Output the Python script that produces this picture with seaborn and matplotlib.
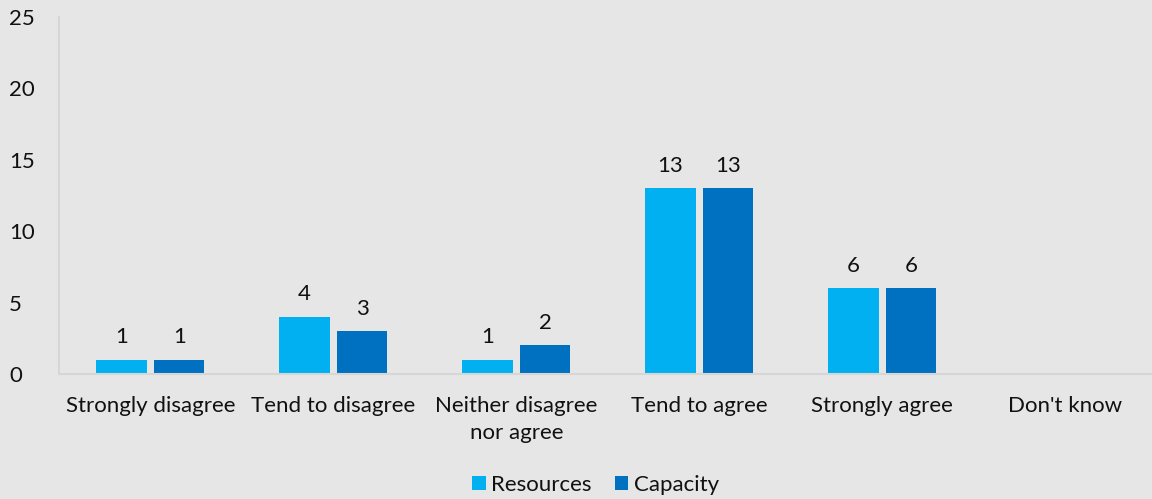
import matplotlib
matplotlib.use("Agg")
import matplotlib.pyplot as plt
import seaborn as sns
import pandas as pd

categories = ["Strongly disagree", "Tend to disagree", "Neither disagree\nnor agree",
              "Tend to agree", "Strongly agree", "Don't know"]
resources = [1, 4, 1, 13, 6, 0]
capacity = [1, 3, 2, 13, 6, 0]
series_names = ["Resources", "Capacity"]
yticks = [0, 5, 10, 15, 20, 25]

bg = "#e6e6e6"
colors = ["#00b0f0", "#0070c0"]
ink = "#111111"
fs = 16

sns.set_theme(style="white")
plt.rcParams["font.family"] = ["Lato", "DejaVu Sans"]

df = pd.DataFrame({
    "category": categories * 2,
    "value": resources + capacity,
    "series": [series_names[0]] * len(categories) + [series_names[1]] * len(categories),
})

fig = plt.figure(figsize=(11.52, 4.99), dpi=100, facecolor=bg)
ax = fig.add_axes([59 / 1152, 1 - 374 / 499, 1 - 59 / 1152 + 0.004, (374 - 17) / 499])
ax.set_facecolor(bg)

sns.barplot(data=df, x="category", y="value", hue="series", order=categories,
            hue_order=series_names, palette=colors, width=0.628, gap=0.12,
            saturation=1, linewidth=0, edgecolor="none", ax=ax)

for container in ax.containers:
    labels = [f"{v:g}" if v > 0 else "" for v in container.datavalues]
    ax.bar_label(container, labels=labels, padding=9, fontsize=fs, color=ink)

ax.set_ylim(0, 25)
ax.set_yticks(yticks)
ax.set_xlim(-0.5, len(categories) - 0.5)
ax.set_xlabel("")
ax.set_ylabel("")
ax.tick_params(axis="both", length=0, labelsize=fs, colors=ink)
ax.tick_params(axis="x", pad=16)
ax.tick_params(axis="y", pad=36)
for lbl in ax.get_yticklabels():
    lbl.set_horizontalalignment("left")
for lbl in ax.get_xticklabels():
    lbl.set_linespacing(1.45)

for side in ["top", "right"]:
    ax.spines[side].set_visible(False)
for side in ["left", "bottom"]:
    ax.spines[side].set_color("#d6d6d6")
    ax.spines[side].set_linewidth(1.5)

leg = ax.legend(loc="center", bbox_to_anchor=(0.489, -0.31), ncol=2, frameon=False,
                fontsize=fs, handlelength=0.6, handleheight=0.6, handletextpad=0.25,
                columnspacing=1.05, borderpad=0)
for t in leg.get_texts():
    t.set_color(ink)

fig.savefig("out.png", dpi=100, facecolor=bg)
